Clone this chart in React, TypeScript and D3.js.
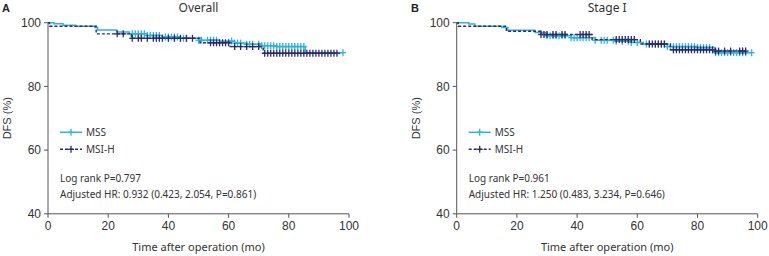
import React from "react";
import * as d3 from "d3";

const xTicks = [0, 20, 40, 60, 80, 100];
const yTicks = [40, 60, 80, 100];
const seriesNames = ["MSS", "MSI-H"];

// Panel A – Overall
const aMssSteps: [number, number][] = [
  [0, 100], [2, 99.7], [5, 99.2], [9, 98.9], [15.6, 98.5], [16.5, 97.7], [22.8, 97.1],
  [27, 96.5], [33, 96.0], [38, 95.5], [44, 95.1], [50, 94.5], [57, 94.2], [62, 93.6],
  [66, 93.2], [71, 92.8], [76, 92.5], [85.5, 90.6],
];
const aMssEnd = 98;
const aMssCensor = [28, 29, 30, 31, 32, 33, 34, 35, 36, 37, 39, 40, 41, 42, 43, 45, 46, 50, 51, 53, 54, 55, 56, 61, 62, 63, 64, 66, 67, 68, 70, 71, 72, 73, 74, 75, 76, 77, 78, 79, 80, 81, 82, 83, 84, 85, 98];
const aMsiSteps: [number, number][] = [
  [0, 100], [0.5, 98.9], [16, 96.5], [27.7, 95.1], [50.5, 93.7], [60.5, 92.5], [71.5, 90.4],
];
const aMsiEnd = 96;
const aMsiCensor = [23, 25, 28, 30, 31, 33, 35, 36, 37, 38, 40, 42, 44, 46, 48, 54, 55, 56, 57, 58, 59, 60, 62, 64, 66, 68, 70, 72, 73, 74, 75, 76, 77, 78, 79, 80, 81, 82, 83, 84, 85, 86, 87, 88, 89, 90, 91, 92, 93, 94, 95, 96];

// Panel B – Stage I
const bMssSteps: [number, number][] = [
  [0, 100], [4, 99.6], [6, 98.9], [15, 98.5], [17, 97.6], [26, 96.9], [30, 95.9],
  [38, 95.3], [46, 94.5], [53, 94.2], [58, 93.8], [62, 93.3], [70, 92.5], [80, 92.2], [85.7, 90.6],
];
const bMssEnd = 98;
const bMssCensor = [30, 31, 32, 33, 34, 35, 36, 38, 39, 40, 41, 42, 43, 44, 46, 48, 49, 50, 52, 53, 55, 57, 58, 60, 63, 64, 66, 67, 68, 69, 70, 71, 72, 73, 74, 75, 76, 77, 78, 79, 80, 81, 82, 83, 84, 86, 87, 88, 89, 90, 91, 92, 93, 94, 95, 96, 98];
const bMsiSteps: [number, number][] = [
  [0, 100], [0.5, 98.9], [16.5, 97.3], [28, 96.3], [45, 94.7], [61, 93.3], [71, 91.5], [86, 91.1],
];
const bMsiEnd = 96;
const bMsiCensor = [28, 29, 30, 32, 33, 35, 36, 41, 42, 43, 44, 53, 54, 55, 56, 57, 58, 59, 64, 65, 66, 67, 68, 69, 72, 73, 74, 75, 76, 77, 78, 79, 80, 81, 82, 83, 84, 85, 86, 87, 89, 91, 94, 95, 96];

const MSS_COLOR = "#2bb3e0";
const MSI_COLOR = "#2d2a6b";
const AXIS_COLOR = "#555";
const TEXT_COLOR = "#333";
const TICK_FONT = "'Liberation Sans', Arial, sans-serif";
const TEXT_FONT = "'Noto Sans', sans-serif";

type PanelProps = {
  left: number;
  letter: string;
  title: string;
  mssSteps: [number, number][];
  mssEnd: number;
  mssCensor: number[];
  msiSteps: [number, number][];
  msiEnd: number;
  msiCensor: number[];
  logRank: string;
  hr: string;
  letterX: number;
};

function survAt(steps: [number, number][], t: number) {
  let s = steps[0][1];
  for (const [ts, v] of steps) if (ts <= t) s = v;
  return s;
}

function Panel(p: PanelProps) {
  const top = 22.7;
  const bottom = 213.8;
  const width = 301;
  const x = d3.scaleLinear().domain([0, 100]).range([p.left, p.left + width]);
  const y = d3.scaleLinear().domain([40, 100]).range([bottom, top]);
  const line = d3
    .line<[number, number]>()
    .x((d) => x(d[0]))
    .y((d) => y(d[1]))
    .curve(d3.curveStepAfter);
  const pts = (steps: [number, number][], end: number) =>
    [...steps, [end, steps[steps.length - 1][1]] as [number, number]];
  const cross = (cx: number, cy: number, color: string, key: string) => (
    <g key={key} stroke={color} strokeWidth={1.3}>
      <line x1={cx - 3} x2={cx + 3} y1={cy} y2={cy} />
      <line x1={cx} x2={cx} y1={cy - 3.5} y2={cy + 3.5} />
    </g>
  );
  const cx = (p.left + p.left + width) / 2;
  const legX = p.left + 12;
  return (
    <g>
      <text x={p.letterX} y={12} fontFamily={TICK_FONT} fontWeight="bold" fontSize={11} fill="#222">
        {p.letter}
      </text>
      <text x={cx} y={12} textAnchor="middle" fontFamily={TEXT_FONT} fontSize={12} fill={TEXT_COLOR}>
        {p.title}
      </text>
      {/* axes */}
      <line x1={p.left} x2={p.left} y1={top} y2={bottom} stroke={AXIS_COLOR} strokeWidth={1} />
      <line x1={p.left} x2={p.left + width} y1={bottom} y2={bottom} stroke={AXIS_COLOR} strokeWidth={1} />
      {yTicks.map((t) => (
        <g key={"y" + t}>
          <line x1={p.left - 4} x2={p.left} y1={y(t)} y2={y(t)} stroke={AXIS_COLOR} />
          <text x={p.left - 7} y={y(t)} dy="0.35em" textAnchor="end" fontFamily={TICK_FONT} fontSize={12} fill={TEXT_COLOR}>
            {t}
          </text>
        </g>
      ))}
      {xTicks.map((t) => (
        <g key={"x" + t}>
          <line x1={x(t)} x2={x(t)} y1={bottom} y2={bottom + 4} stroke={AXIS_COLOR} />
          <text x={x(t)} y={bottom + 16} textAnchor="middle" fontFamily={TICK_FONT} fontSize={12} fill={TEXT_COLOR}>
            {t}
          </text>
        </g>
      ))}
      <text
        transform={`translate(${p.left - 37},${(top + bottom) / 2}) rotate(-90)`}
        textAnchor="middle"
        fontFamily={TICK_FONT}
        fontSize={11}
        fill={TEXT_COLOR}
      >
        DFS (%)
      </text>
      <text x={cx} y={bottom + 37} textAnchor="middle" fontFamily={TEXT_FONT} fontSize={11} fill={TEXT_COLOR}>
        Time after operation (mo)
      </text>
      {/* curves */}
      <path d={line(pts(p.mssSteps, p.mssEnd)) ?? ""} fill="none" stroke={MSS_COLOR} strokeWidth={1.5} />
      {p.mssCensor.map((t, i) => cross(x(t), y(survAt(p.mssSteps, t)), MSS_COLOR, "mc" + i))}
      <path
        d={line(pts(p.msiSteps, p.msiEnd)) ?? ""}
        fill="none"
        stroke={MSI_COLOR}
        strokeWidth={1.4}
        strokeDasharray="3,2"
      />
      {p.msiCensor.map((t, i) => cross(x(t), y(survAt(p.msiSteps, t)), MSI_COLOR, "ic" + i))}
      {/* legend */}
      <line x1={legX} x2={legX + 22} y1={132.3} y2={132.3} stroke={MSS_COLOR} strokeWidth={1.5} />
      {cross(legX + 11, 132.3, MSS_COLOR, "lg1")}
      <text x={legX + 26} y={132.3} dy="0.35em" fontFamily={TEXT_FONT} fontSize={10} fill={TEXT_COLOR}>
        {seriesNames[0]}
      </text>
      <line x1={legX} x2={legX + 22} y1={149.3} y2={149.3} stroke={MSI_COLOR} strokeWidth={1.4} strokeDasharray="3,2" />
      {cross(legX + 11, 149.3, MSI_COLOR, "lg2")}
      <text x={legX + 26} y={149.3} dy="0.35em" fontFamily={TEXT_FONT} fontSize={10} fill={TEXT_COLOR}>
        {seriesNames[1]}
      </text>
      <text x={legX} y={182} fontFamily={TEXT_FONT} fontSize={10} fill={TEXT_COLOR}>
        {p.logRank}
      </text>
      <text x={legX} y={198} fontFamily={TEXT_FONT} fontSize={10} fill={TEXT_COLOR}>
        {p.hr}
      </text>
    </g>
  );
}

export default function App() {
  return (
    <svg width={769} height={256} style={{ position: "absolute", left: 0, top: 0, background: "#fff" }}>
      <Panel
        left={48}
        letter="A"
        letterX={2}
        title="Overall"
        mssSteps={aMssSteps}
        mssEnd={aMssEnd}
        mssCensor={aMssCensor}
        msiSteps={aMsiSteps}
        msiEnd={aMsiEnd}
        msiCensor={aMsiCensor}
        logRank="Log rank P=0.797"
        hr="Adjusted HR: 0.932 (0.423, 2.054, P=0.861)"
      />
      <Panel
        left={456.7}
        letter="B"
        letterX={411}
        title="Stage I"
        mssSteps={bMssSteps}
        mssEnd={bMssEnd}
        mssCensor={bMssCensor}
        msiSteps={bMsiSteps}
        msiEnd={bMsiEnd}
        msiCensor={bMsiCensor}
        logRank="Log rank P=0.961"
        hr="Adjusted HR: 1.250 (0.483, 3.234, P=0.646)"
      />
    </svg>
  );
}
